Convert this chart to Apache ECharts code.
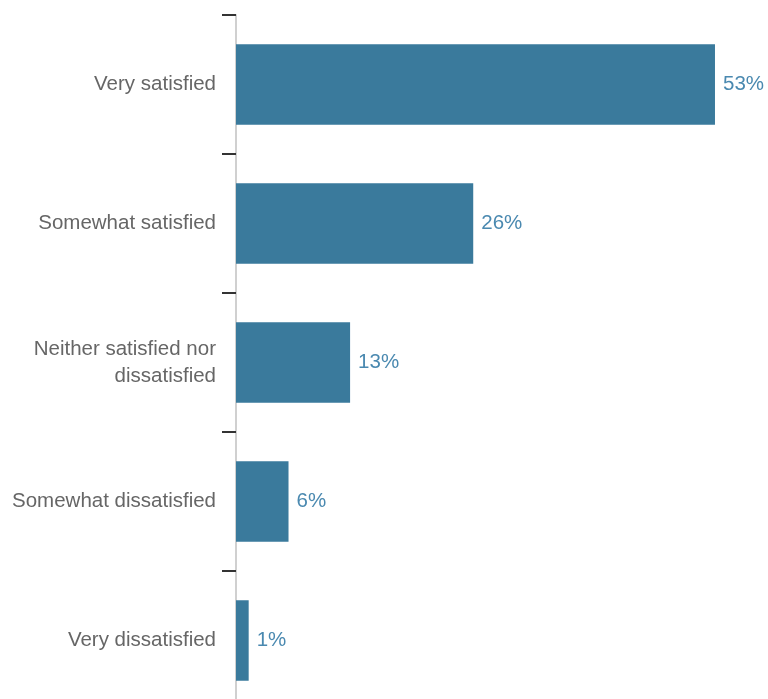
<!DOCTYPE html>
<html>
<head>
<meta charset="utf-8">
<script src="https://cdn.jsdelivr.net/npm/echarts@6/dist/echarts.min.js"></script>
<style>
html,body{margin:0;padding:0;background:#fff;overflow:hidden;width:768px;height:699px;}
#chart{width:768px;height:711px;}
</style>
</head>
<body>
<div id="chart"></div>
<script>
var categories = ["Very satisfied", "Somewhat satisfied", "Neither satisfied nor\ndissatisfied", "Somewhat dissatisfied", "Very dissatisfied"];
var values = [52.9, 26.2, 12.6, 5.8, 1.4];
var valueLabels = ["53%", "26%", "13%", "6%", "1%"];

var chart = echarts.init(document.getElementById('chart'));
chart.setOption({
  animation: false,
  grid: { left: 236, width: 498, top: 15, height: 695, containLabel: false },
  xAxis: { type: 'value', min: 0, max: 55, show: false },
  yAxis: {
    type: 'category',
    data: categories,
    inverse: true,
    axisLine: { show: true, lineStyle: { color: '#d0d0d0', width: 2 } },
    axisTick: { show: true, length: 14, lineStyle: { color: '#333', width: 2 } },
    axisLabel: {
      margin: 20,
      color: '#666',
      fontSize: 20.5,
      fontFamily: 'Liberation Sans',
      lineHeight: 27,
      align: 'right'
    },
    splitLine: { show: false }
  },
  series: [{
    type: 'bar',
    data: values,
    barCategoryGap: '42%',
    itemStyle: { color: '#3a7a9c' },
    label: {
      show: true,
      position: 'right',
      distance: 8,
      color: '#4a89b0',
      fontSize: 20.5,
      fontFamily: 'Liberation Sans',
      formatter: function (p) { return valueLabels[p.dataIndex]; }
    }
  }]
});
</script>
</body>
</html>
